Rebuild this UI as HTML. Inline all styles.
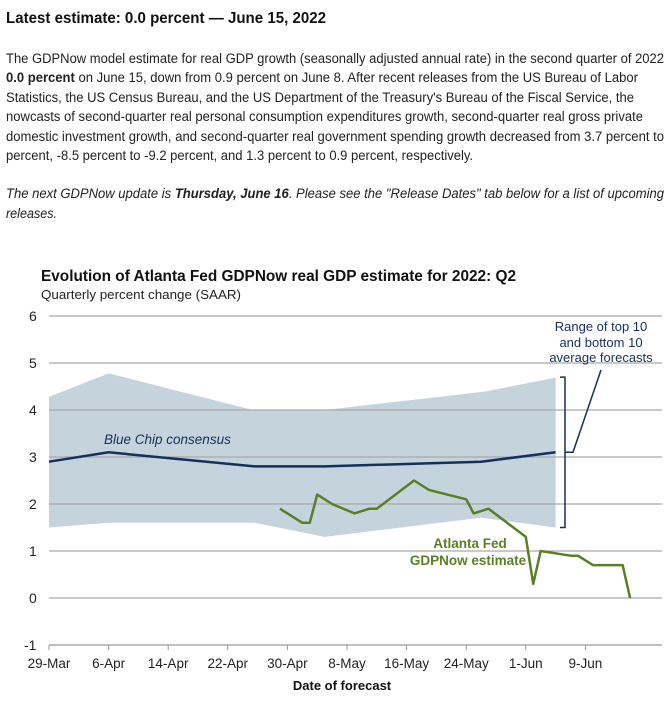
<!DOCTYPE html>
<html><head><meta charset="utf-8"><style>
body{margin:0;background:#fff;}
svg{display:block;font-family:"Liberation Sans",Arial,sans-serif;}
</style></head><body>
<svg id="root" width="664" height="706" viewBox="0 0 664 706">
<text x="6" y="23" font-size="15.5" font-weight="bold" fill="#111" textLength="320" lengthAdjust="spacingAndGlyphs">Latest estimate: 0.0 percent — June 15, 2022</text>
<g font-size="13.5" fill="#222">
<text x="6" y="63" textLength="658" lengthAdjust="spacingAndGlyphs">The GDPNow model estimate for real GDP growth (seasonally adjusted annual rate) in the second quarter of 2022</text>
<text x="6" y="82" textLength="632" lengthAdjust="spacingAndGlyphs"><tspan font-weight="bold">0.0 percent</tspan> on June 15, down from 0.9 percent on June 8. After recent releases from the US Bureau of Labor</text>
<text x="6" y="102" textLength="628" lengthAdjust="spacingAndGlyphs">Statistics, the US Census Bureau, and the US Department of the Treasury's Bureau of the Fiscal Service, the</text>
<text x="6" y="121" textLength="637" lengthAdjust="spacingAndGlyphs">nowcasts of second-quarter real personal consumption expenditures growth, second-quarter real gross private</text>
<text x="6" y="141" textLength="658" lengthAdjust="spacingAndGlyphs">domestic investment growth, and second-quarter real government spending growth decreased from 3.7 percent to</text>
<text x="6" y="160" textLength="467" lengthAdjust="spacingAndGlyphs">percent, -8.5 percent to -9.2 percent, and 1.3 percent to 0.9 percent, respectively.</text>
</g>
<g font-size="13.5" fill="#222" font-style="italic">
<text x="6" y="198" textLength="658" lengthAdjust="spacingAndGlyphs">The next GDPNow update is <tspan font-weight="bold">Thursday, June 16</tspan>. Please see the "Release Dates" tab below for a list of upcoming</text>
<text x="6" y="218" textLength="51" lengthAdjust="spacingAndGlyphs">releases.</text>
</g>
<text x="41" y="281" font-size="16" font-weight="bold" fill="#111" textLength="475" lengthAdjust="spacingAndGlyphs">Evolution of Atlanta Fed GDPNow real GDP estimate for 2022: Q2</text>
<text x="41" y="299" font-size="13" fill="#222" textLength="200" lengthAdjust="spacingAndGlyphs">Quarterly percent change (SAAR)</text>
<g id="chart"></g>
</svg>
<script>
// data
const yTicks = [-1,0,1,2,3,4,5,6];
const xTickLabels = ["29-Mar","6-Apr","14-Apr","22-Apr","30-Apr","8-May","16-May","24-May","1-Jun","9-Jun"];
const xTickDays = [0,8,16,24,32,40,48,56,64,72]; // days since 29-Mar
const bandDays = [0,8,27.6,37,58.5,68];
const bandUpper = [4.28,4.78,3.99,4.0,4.39,4.69];
const bandLowerDays = [0,8,27.6,37,58,68];
const bandLower = [1.5,1.6,1.6,1.3,1.71,1.5];
const consensusDays = [0,8,27.6,37,58,68];
const consensus = [2.9,3.1,2.8,2.8,2.9,3.1];
const gdpNowDays = [31,34,35,36,38,41,43,44,49,51,56,57,59,64,65,66,70,71,73,77,78];
const gdpNow = [1.9,1.6,1.6,2.2,2.0,1.8,1.9,1.9,2.5,2.3,2.1,1.8,1.9,1.3,0.3,1.0,0.9,0.9,0.7,0.7,0.0];

const NS="http://www.w3.org/2000/svg";
const g=document.getElementById('chart');
const X0=49, PXD=7.45, Y0=598, PXU=47, XR=662;
const xs=d=>X0+d*PXD, ys=v=>Y0-v*PXU;
function mk(t,a){const e=document.createElementNS(NS,t);for(const k in a)e.setAttribute(k,a[k]);g.appendChild(e);return e;}

// band
let pts=bandDays.map((d,i)=>xs(d)+","+ys(bandUpper[i]));
for(let i=bandLower.length-1;i>=0;i--)pts.push(xs(bandLowerDays[i])+","+ys(bandLower[i]));
const band=mk('polygon',{points:pts.join(' '),fill:'#c5d3dc'});



// gridlines & y labels
yTicks.forEach(v=>{
  const l=mk('line',{x1:X0,x2:XR,y1:ys(v),y2:ys(v),stroke:v===-1?'#999':'#a9a9a9','stroke-width':1.3});
  
  
  const t=mk('text',{x:v<0?24:29,y:ys(v)+5,'font-size':14,fill:'#222'});
  t.textContent=String(v);
  
  
});
// x ticks
xTickDays.forEach((d,i)=>{
  const l=mk('line',{x1:xs(d),x2:xs(d),y1:ys(-1),y2:ys(-1)+5,stroke:'#999'});
  
  
  const t=mk('text',{x:xs(d),y:668,'font-size':13.5,fill:'#222','text-anchor':'middle'});
  t.textContent=xTickLabels[i];
  
  
});
const xt=mk('text',{x:342,y:690,'font-size':13,'font-weight':'bold',fill:'#111','text-anchor':'middle'});
xt.textContent='Date of forecast';



// consensus line
const cl=mk('polyline',{points:consensusDays.map((d,i)=>xs(d)+","+ys(consensus[i])).join(' '),fill:'none',stroke:'#13315c','stroke-width':2.5});


// gdpnow line
const gl=mk('polyline',{points:gdpNowDays.map((d,i)=>xs(d)+","+ys(gdpNow[i])).join(' '),fill:'none',stroke:'#5b7f25','stroke-width':2.5,'stroke-linejoin':'round'});



// bracket
const bx=565;
const br=mk('path',{d:`M${bx-5},${ys(4.7)} H${bx} V${ys(1.5)} H${bx-5} M${bx},${ys(3.1)} H${bx+8} L${601},${370}`,fill:'none',stroke:'#13315c','stroke-width':1.5});



function label(txt,x,y,opts,name){const t=mk('text',Object.assign({x:x,y:y},opts));t.textContent=txt;return t;}
label('Range of top 10',601,331,{'font-size':13,fill:'#13315c','text-anchor':'middle'},'range-label-line1');
label('and bottom 10',601,347,{'font-size':13,fill:'#13315c','text-anchor':'middle'},'range-label-line2');
label('average forecasts',601,362,{'font-size':13,fill:'#13315c','text-anchor':'middle'},'range-label-line3');
label('Blue Chip consensus',104,444,{'font-size':13.5,fill:'#13315c','font-style':'italic'},'blue-chip-label');
label('Atlanta Fed',470,548,{'font-size':13.5,fill:'#5b7f25','font-weight':'bold','text-anchor':'middle'},'gdpnow-label-line1');
label('GDPNow estimate',468,565,{'font-size':13.5,fill:'#5b7f25','font-weight':'bold','text-anchor':'middle'},'gdpnow-label-line2');
</script>
</body></html>
